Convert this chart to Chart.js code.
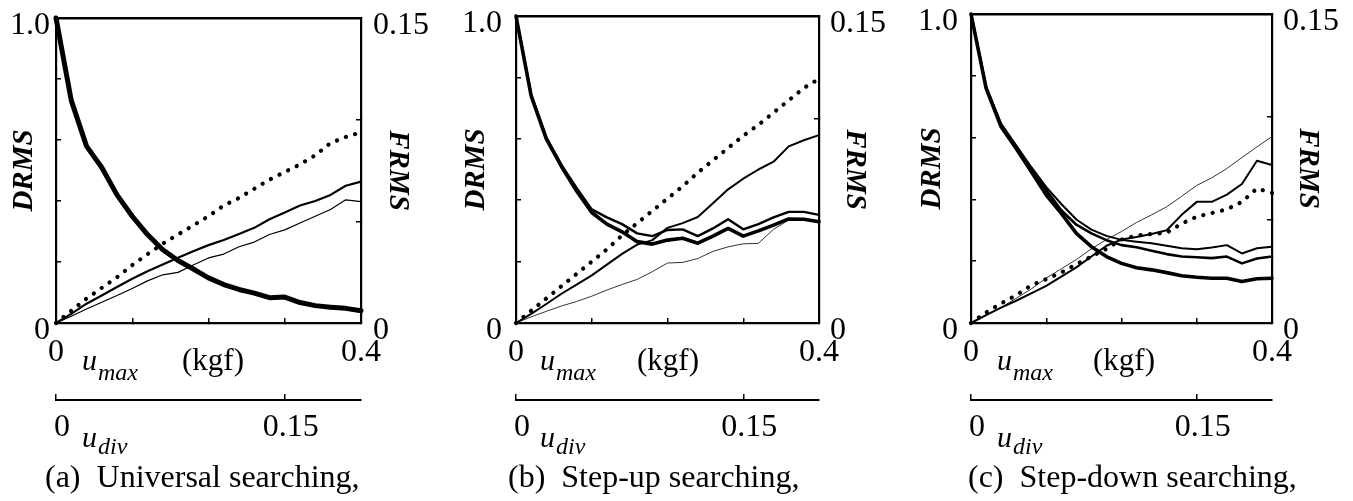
<!DOCTYPE html>
<html>
<head>
<meta charset="utf-8">
<script src="https://cdn.jsdelivr.net/npm/chart.js@4.4.1/dist/chart.umd.min.js"></script>
<style>
html,body{margin:0;padding:0;background:#fff;width:1353px;height:501px;overflow:hidden}
.panel{position:absolute;top:0;width:451px;height:501px}
</style>
</head>
<body>
<div class="panel" style="left:0px"><canvas id="ca" width="451" height="501"></canvas></div>
<div class="panel" style="left:451px"><canvas id="cb" width="451" height="501"></canvas></div>
<div class="panel" style="left:902px"><canvas id="cc" width="451" height="501"></canvas></div>
<script>
// ---------- axis ticks / labels ----------
const umax = [0,0.02,0.04,0.06,0.08,0.10,0.12,0.14,0.16,0.18,0.20,0.22,0.24,0.26,0.28,0.30,0.32,0.34,0.36,0.38,0.40];
const umaxTicks = [0,0.1,0.2,0.3,0.4];
const umaxTickLabels = ['0','','','','0.4'];
const udivTicks = [0,0.15];
const udivTickLabels = ['0','0.15'];
const drmsTicks = [0,0.2,0.4,0.6,0.8,1.0];
const drmsTickLabels = ['0','','','','','1.0'];
const frmsTicks = [0,0.05,0.10,0.15];
const frmsTickLabels = ['0','','','0.15'];
const captions = ['(a)  Universal searching,','(b)  Step-up searching,','(c)  Step-down searching,'];

// ---------- (a) Universal searching ----------
const aDrms      = [1.0,0.73,0.58,0.51,0.42,0.35,0.29,0.24,0.205,0.177,0.148,0.126,0.11,0.098,0.083,0.085,0.067,0.057,0.052,0.048,0.04];
const aFrmsDot   = [0,0.006,0.012,0.0173,0.0225,0.0285,0.0338,0.039,0.0435,0.048,0.0525,0.0578,0.0615,0.066,0.0705,0.0743,0.078,0.0825,0.0885,0.0915,0.0938];
const aFrmsMid   = [0,0.0045,0.0095,0.0135,0.0177,0.0218,0.0255,0.0288,0.0321,0.0353,0.0383,0.0408,0.0438,0.0468,0.051,0.0543,0.0578,0.06,0.063,0.0675,0.0695];
const aFrmsThin  = [0,0.0033,0.0069,0.0102,0.0135,0.017,0.0207,0.0237,0.0249,0.0285,0.032,0.0339,0.0375,0.0398,0.0435,0.0458,0.0492,0.0525,0.0558,0.0606,0.0597];

// ---------- (b) Step-up searching ----------
const bDrmsLow   = [1.0,0.74,0.6,0.51,0.43,0.36,0.322,0.297,0.265,0.257,0.27,0.276,0.26,0.283,0.308,0.283,0.30,0.319,0.339,0.338,0.33];
const bDrmsUp    = [1.0,0.745,0.605,0.515,0.44,0.37,0.344,0.322,0.292,0.283,0.303,0.305,0.283,0.308,0.338,0.305,0.322,0.344,0.362,0.362,0.352];
const bFrmsDot   = [0,0.006,0.012,0.018,0.024,0.03,0.036,0.0428,0.0488,0.0548,0.0608,0.0668,0.0735,0.0795,0.0855,0.0915,0.0968,0.1028,0.1088,0.1148,0.1193];
const bFrmsMid   = [0,0.0045,0.0093,0.0143,0.0188,0.0233,0.0285,0.0338,0.0383,0.0405,0.0465,0.0488,0.0518,0.0585,0.0653,0.0705,0.075,0.0788,0.0863,0.0893,0.0918];
const bFrmsThin  = [0,0.003,0.0057,0.0083,0.0105,0.0131,0.0161,0.0188,0.0213,0.0251,0.0293,0.0296,0.0315,0.035,0.0372,0.0387,0.0389,0.0458,0.0503,0.0503,0.0495];

// ---------- (c) Step-down searching ----------
const cDrmsLow   = [1.0,0.76,0.635,0.565,0.49,0.414,0.355,0.29,0.247,0.215,0.193,0.179,0.172,0.163,0.153,0.148,0.145,0.145,0.134,0.143,0.145];
const cDrmsMid   = [1.0,0.765,0.64,0.57,0.5,0.43,0.365,0.318,0.29,0.268,0.252,0.245,0.234,0.223,0.215,0.213,0.21,0.215,0.193,0.209,0.215];
const cDrmsUp    = [1.0,0.765,0.645,0.575,0.505,0.44,0.385,0.335,0.302,0.282,0.269,0.263,0.258,0.25,0.242,0.239,0.244,0.252,0.225,0.242,0.247];
const cFrmsDot   = [0,0.0051,0.0095,0.0135,0.0183,0.0213,0.0245,0.0285,0.0323,0.036,0.0405,0.0425,0.0432,0.0438,0.0483,0.0516,0.0534,0.0552,0.0588,0.0653,0.0632];
const cFrmsMid   = [0,0.0038,0.0075,0.0108,0.0144,0.018,0.0225,0.027,0.0323,0.0375,0.0405,0.0417,0.0432,0.045,0.0525,0.0588,0.0588,0.0623,0.0675,0.0788,0.0767];
const cFrmsThin  = [0,0.0038,0.0075,0.012,0.0165,0.0218,0.0263,0.0308,0.036,0.0405,0.0444,0.0488,0.0525,0.0564,0.0615,0.0668,0.0705,0.075,0.0803,0.0855,0.0905];

// ---------- styling helpers ----------
const FONT = "'Liberation Serif', 'Times New Roman', serif";
const INK = '#000';
Chart.defaults.color = INK;
Chart.defaults.font.family = FONT;

function pts(arr){ return umax.map((x,i)=>({x:x, y:arr[i]})); }
function solid(label, arr, axis, width, color){
  return {label, data:pts(arr), yAxisID:axis, xAxisID:'x', borderColor:color||INK, borderWidth:width,
          pointRadius:0, tension:0, fill:false, clip:false, borderJoinStyle:'round', borderCapStyle:'round'};
}
function dotted(label, arr, axis){
  return {label, data:pts(arr), yAxisID:axis, xAxisID:'x', borderColor:INK, borderWidth:4.2,
          borderDash:[0.1,9.5], borderCapStyle:'round', pointRadius:0, tension:0, fill:false, clip:false};
}
function noPad(s){ s.paddingTop = 0; s.paddingBottom = 0; s.paddingLeft = 0; s.paddingRight = 0; }

const annot = {
  id:'annot',
  afterDraw(chart, args, o){
    const ctx = chart.ctx, ca = chart.chartArea, x2 = chart.scales.x2;
    ctx.save();
    ctx.fillStyle = INK; ctx.textAlign = 'left'; ctx.textBaseline = 'alphabetic';
    // u_max (kgf)
    let x = ca.left + o.uOff, y = ca.bottom + 47;
    ctx.font = "italic 30px " + FONT; ctx.fillText('u', x, y);
    let w = ctx.measureText('u').width;
    ctx.font = "italic 24px " + FONT; ctx.fillText('max', x + w + 1, y + 10);
    ctx.font = "31px " + FONT; ctx.fillText('(kgf)', ca.left + o.kgfOff, y);
    // u_div
    y = x2.top + 47;
    ctx.font = "italic 30px " + FONT; ctx.fillText('u', x, y);
    ctx.font = "italic 24px " + FONT; ctx.fillText('div', x + w + 1, y + 7);
    // caption
    ctx.font = "32px " + FONT; ctx.fillText(o.caption, ca.left + o.capOff, x2.bottom + 27);
    ctx.restore();
  }
};

function makePanel(id, datasets, g){
  const tickFont = {family:FONT, size:32};
  const titleFont = {family:FONT, size:29, style:'italic', weight:'bold', lineHeight:1};
  return new Chart(document.getElementById(id), {
    type:'line',
    data:{datasets},
    plugins:[annot],
    options:{
      responsive:false, animation:false, events:[],
      layout:{padding:{left:0, right:g.padR, top:g.top, bottom:41}},
      plugins:{legend:{display:false}, tooltip:{enabled:false},
               annot:{uOff:g.uOff, kgfOff:g.kgfOff, capOff:g.capOff, caption:g.caption}},
      scales:{
        x:{type:'linear', position:'bottom', min:0, max:0.4,
           afterBuildTicks:s=>{s.ticks = umaxTicks.map(v=>({value:v}));},
           afterFit:s=>{s.height = 77; noPad(s);},
           grid:{display:true, drawOnChartArea:false, drawTicks:true, tickLength:-5, color:INK, lineWidth:1.5},
           border:{display:true, color:INK, width:2.2},
           ticks:{autoSkip:false, maxRotation:0, padding:15, font:tickFont, color:INK,
                  callback:(v,i)=>umaxTickLabels[i]}},
        x2:{type:'linear', position:'bottom', min:0, max:0.2,
           afterBuildTicks:s=>{s.ticks = udivTicks.map(v=>({value:v}));},
           afterFit:s=>{s.height = 60; noPad(s);},
           grid:{display:true, drawOnChartArea:false, drawTicks:true, tickLength:-6, color:INK, lineWidth:1.5},
           border:{display:true, color:INK, width:2},
           ticks:{autoSkip:false, maxRotation:0, padding:14, labelOffset:6, font:tickFont, color:INK,
                  callback:(v,i)=>udivTickLabels[i]}},
        xt:{type:'linear', position:'top', min:0, max:0.4,
           afterFit:s=>{s.height = 0; noPad(s);},
           grid:{display:false}, ticks:{display:false},
           border:{display:true, color:INK, width:2.5}},
        y:{type:'linear', position:'left', min:0, max:1,
           afterBuildTicks:s=>{s.ticks = drmsTicks.map(v=>({value:v}));},
           afterFit:s=>{s.width = g.wL; noPad(s);},
           grid:{display:true, drawOnChartArea:false, drawTicks:true, tickLength:-5, color:INK, lineWidth:1.5},
           border:{display:true, color:INK, width:2.2},
           ticks:{padding:g.lPad, labelOffset:8, font:tickFont, color:INK, callback:(v,i)=>drmsTickLabels[i]},
           title:{display:true, text:'DRMS', color:INK, font:titleFont, padding:{top:g.dT, bottom:0}}},
        y2:{type:'linear', position:'right', min:0, max:0.15,
           afterBuildTicks:s=>{s.ticks = frmsTicks.map(v=>({value:v}));},
           afterFit:s=>{s.width = 80; noPad(s);},
           grid:{display:true, drawOnChartArea:false, drawTicks:true, tickLength:-5, color:INK, lineWidth:1.5},
           border:{display:true, color:INK, width:2.2},
           ticks:{padding:g.rPad, labelOffset:8, font:tickFont, color:INK, callback:(v,i)=>frmsTickLabels[i]},
           title:{display:true, text:'FRMS', color:INK, font:titleFont, padding:{top:g.fT, bottom:0}}}
      }
    }
  });
}

makePanel('ca', [
  solid('DRMS', aDrms, 'y', 5),
  dotted('FRMS dotted', aFrmsDot, 'y2'),
  solid('FRMS solid', aFrmsMid, 'y2', 2.2),
  solid('FRMS thin', aFrmsThin, 'y2', 1.2)
], {wL:56, padR:10, top:18, lPad:11, rPad:17, dT:10.5, fT:29.5, uOff:26, kgfOff:126, capOff:-11, caption:captions[0]});

makePanel('cb', [
  solid('DRMS lower', bDrmsLow, 'y', 3.6),
  solid('DRMS upper', bDrmsUp, 'y', 2.4),
  dotted('FRMS dotted', bFrmsDot, 'y2'),
  solid('FRMS solid', bFrmsMid, 'y2', 2),
  solid('FRMS thin', bFrmsThin, 'y2', 1, '#333')
], {wL:65, padR:3, top:16, lPad:19, rPad:16, dT:11.5, fT:30.5, uOff:24, kgfOff:121, capOff:-8, caption:captions[1]});

makePanel('cc', [
  solid('DRMS lower', cDrmsLow, 'y', 3.6),
  solid('DRMS middle', cDrmsMid, 'y', 2.6),
  solid('DRMS upper', cDrmsUp, 'y', 2),
  dotted('FRMS dotted', cFrmsDot, 'y2'),
  solid('FRMS solid', cFrmsMid, 'y2', 2),
  solid('FRMS thin', cFrmsThin, 'y2', 1, '#333')
], {wL:69, padR:1, top:14, lPad:18, rPad:16, dT:16.5, fT:30.5, uOff:26, kgfOff:122, capOff:-3, caption:captions[2]});
</script>
</body>
</html>
